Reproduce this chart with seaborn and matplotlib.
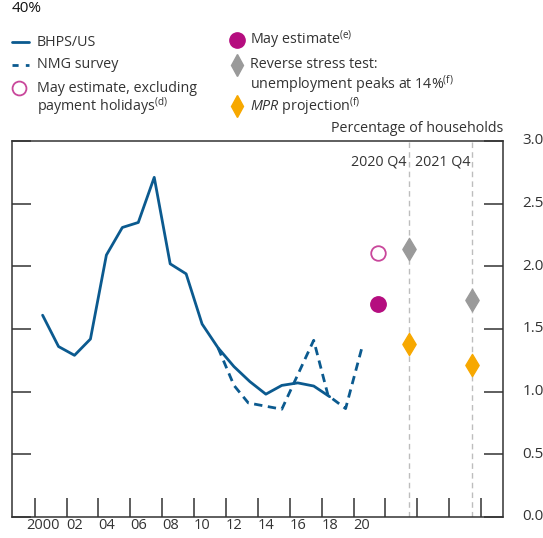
import matplotlib
matplotlib.use("Agg")
import matplotlib.pyplot as plt
from matplotlib.lines import Line2D
import seaborn as sns
import pandas as pd

# ---------------- data ----------------
bhps_years = [2000.5, 2001.5, 2002.5, 2003.5, 2004.5, 2005.5, 2006.5, 2007.5,
              2008.5, 2009.5, 2010.5, 2011.5, 2012.5, 2013.5, 2014.5, 2015.5,
              2016.5, 2017.5, 2018.5]
bhps_values = [1.61, 1.36, 1.29, 1.42, 2.09, 2.31, 2.35, 2.71,
               2.02, 1.94, 1.54, 1.35, 1.20, 1.08, 0.98, 1.05,
               1.07, 1.045, 0.96]

nmg_years = [2011.5, 2012.5, 2013.4, 2015.5, 2017.5, 2018.4, 2019.5, 2020.5]
nmg_values = [1.35, 1.05, 0.91, 0.86, 1.41, 0.97, 0.865, 1.34]

may_x = [2021.55]
may_est = [1.70]
may_excl = [2.11]

scen_x = [2023.45, 2027.45]
scen_labels = ["2020 Q4", "2021 Q4"]
stress_values = [2.14, 1.73]
mpr_values = [1.38, 1.21]

tick_years = list(range(2000, 2030, 2))
label_years = [y + 0.5 for y in range(2000, 2021, 2)]
label_text = ["2000", "02", "04", "06", "08", "10", "12", "14", "16", "18", "20"]
y_ticks = [0.0, 0.5, 1.0, 1.5, 2.0, 2.5, 3.0]

# ---------------- style ----------------
sns.set_style("white")
plt.rcParams["font.family"] = ["Open Sans", "DejaVu Sans"]
plt.rcParams["mathtext.fontset"] = "custom"
plt.rcParams["mathtext.rm"] = "Open Sans"
plt.rcParams["mathtext.it"] = "Open Sans:italic"

BLUE = "#0b5a8f"
MAGENTA = "#b50d7f"
PINK = "#c9479b"
GREY = "#9a9a9a"
AMBER = "#f7a800"
TXT = "#333333"
W, H = 543.0, 538.0

fig = plt.figure(figsize=(5.43, 5.38), dpi=100)
ax = fig.add_axes([12.3 / W, 21 / H, (503 - 12.3) / W, (517 - 141) / H])

bhps = pd.DataFrame({"year": bhps_years, "value": bhps_values})
nmg = pd.DataFrame({"year": nmg_years, "value": nmg_values})

sns.lineplot(data=bhps, x="year", y="value", ax=ax, color=BLUE, lw=2.0)
sns.lineplot(data=nmg, x="year", y="value", ax=ax, color=BLUE, lw=2.0,
             linestyle=(0, (3.0, 2.0)))

for x in scen_x:
    ax.axvline(x, color="#bdbdbd", lw=1.0, linestyle=(0, (4, 3)), zorder=0)

sns.scatterplot(x=may_x, y=may_excl, ax=ax, marker="o", s=110,
                facecolor="white", edgecolor=PINK, linewidth=1.3, zorder=5)
sns.scatterplot(x=may_x, y=may_est, ax=ax, marker="o", s=125,
                color=MAGENTA, edgecolor=MAGENTA, zorder=5)
sns.scatterplot(x=scen_x, y=stress_values, ax=ax, marker="d", s=130,
                color=GREY, edgecolor=GREY, zorder=5)
sns.scatterplot(x=scen_x, y=mpr_values, ax=ax, marker="d", s=130,
                color=AMBER, edgecolor=AMBER, zorder=5)

for x, lab in zip(scen_x, scen_labels):
    ax.text(x - 0.12, 2.83, lab, ha="right", va="center", fontsize=10.3, color=TXT)

ax.set_xlim(1998.6, 2029.37)
ax.set_ylim(0, 3.0)
ax.set_xlabel("")
ax.set_ylabel("")

ax.set_xticks(tick_years)
ax.set_xticklabels([])
ax.set_xticks(label_years, minor=True)
ax.set_xticklabels(label_text, minor=True)
ax.tick_params(axis="x", which="major", direction="in", length=14, width=1.1,
               color="#333333", bottom=True)
ax.tick_params(axis="x", which="minor", length=0, pad=1, labelsize=10.5,
               labelcolor=TXT)

ax.set_yticks(y_ticks)
ax.set_yticklabels(["%.1f" % v for v in y_ticks])
ax.tick_params(axis="y", direction="in", length=14, width=1.1, color="#333333",
               left=True, right=True, labelleft=False, labelright=True,
               pad=14, labelsize=11, labelcolor=TXT)
for lab in ax.get_yticklabels():
    lab.set_verticalalignment("center")

for sp in ax.spines.values():
    sp.set_color("#333333")
    sp.set_linewidth(1.1)

ax.text(1.0, 1.012, "Percentage of households", transform=ax.transAxes,
        ha="right", va="bottom", fontsize=10.3, color=TXT)

# heading fragment at the very top
fig.text(12 / W, 1 - 1 / H, "40%", ha="left", va="top", fontsize=11, color="#111111")

# ---------------- manual legend (figure pixel coordinates) ----------------
def fx(px):
    return px / W

def fy(py):
    return 1 - py / H

def legend_text(px, py, s):
    fig.text(fx(px), fy(py), s, ha="left", va="center", fontsize=10.3, color=TXT)

fig.add_artist(Line2D([fx(12), fx(29)], [fy(42), fy(42)], color=BLUE, lw=2.0))
legend_text(37, 42, "BHPS/US")
fig.add_artist(Line2D([fx(12), fx(29)], [fy(65), fy(65)], color=BLUE, lw=2.0,
                      linestyle=(0, (2.2, 2.6))))
legend_text(37, 65, "NMG survey")
fig.add_artist(Line2D([fx(19)], [fy(88)], marker="o", ls="", markersize=10,
                      markerfacecolor="white", markeredgecolor=PINK,
                      markeredgewidth=1.3))
legend_text(37, 88, "May estimate, excluding")
legend_text(37, 106, "payment holidays$^{\\mathrm{(d)}}$")

fig.add_artist(Line2D([fx(237)], [fy(40)], marker="o", ls="", markersize=11,
                      markerfacecolor=MAGENTA, markeredgecolor=MAGENTA))
legend_text(250, 40, "May estimate$^{\\mathrm{(e)}}$")
fig.add_artist(Line2D([fx(237)], [fy(65)], marker="d", ls="", markersize=11,
                      markerfacecolor=GREY, markeredgecolor=GREY))
legend_text(250, 65, "Reverse stress test:")
legend_text(250, 84, "unemployment peaks at 14%$^{\\mathrm{(f)}}$")
fig.add_artist(Line2D([fx(237)], [fy(106)], marker="d", ls="", markersize=11,
                      markerfacecolor=AMBER, markeredgecolor=AMBER))
legend_text(250, 106, "$\\mathit{MPR}$ projection$^{\\mathrm{(f)}}$")

fig.savefig("out.png", dpi=100)
